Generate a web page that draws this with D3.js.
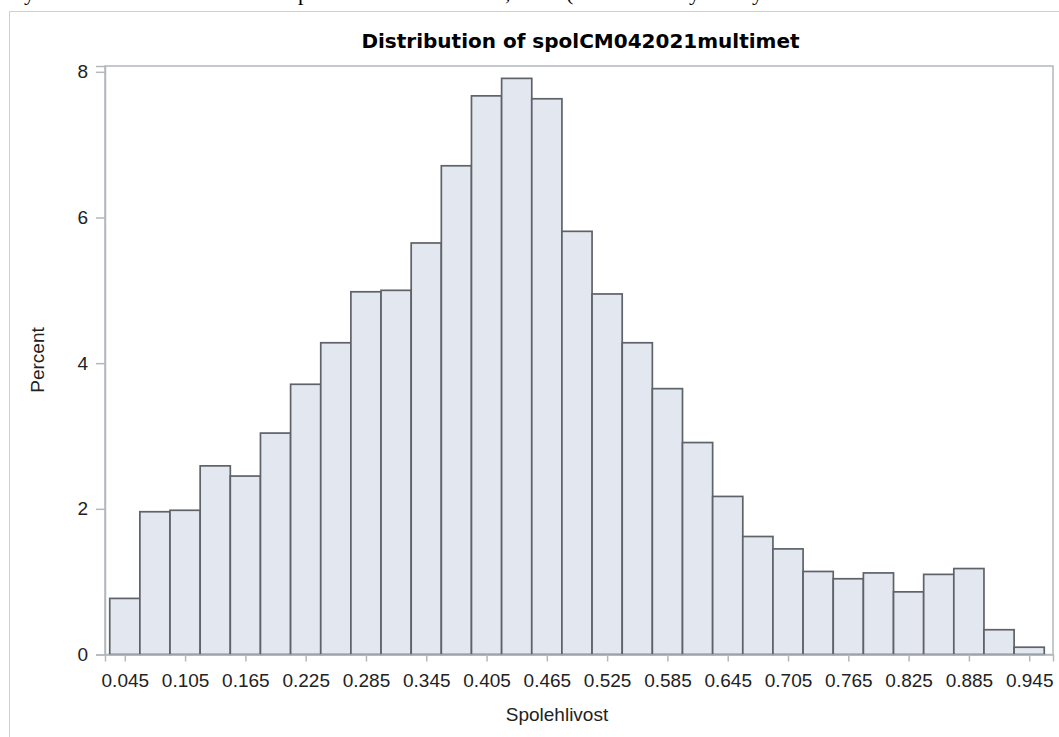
<!DOCTYPE html>
<html>
<head>
<meta charset="utf-8">
<script src="https://cdn.jsdelivr.net/npm/d3@7"></script>
<style>
  html, body { margin: 0; padding: 0; background: #fff; }
  svg { display: block; }
  .tick-label { font-family: "Liberation Sans", Arial, sans-serif; font-size: 19px; fill: #222; }
  .axis-label { font-family: "Liberation Sans", Arial, sans-serif; font-size: 19px; fill: #222; }
  .title { font-family: "DejaVu Sans", Verdana, sans-serif; font-size: 20px; font-weight: bold; fill: #000; }
</style>
</head>
<body>
<div class="chart"></div>
<script>
// bin midpoints (Spolehlivost), bin width 0.03
const binMids = [0.045, 0.075, 0.105, 0.135, 0.165, 0.195, 0.225, 0.255, 0.285, 0.315,
  0.345, 0.375, 0.405, 0.435, 0.465, 0.495, 0.525, 0.555, 0.585, 0.615,
  0.645, 0.675, 0.705, 0.735, 0.765, 0.795, 0.825, 0.855, 0.885, 0.915, 0.945];
const percents = [0.77, 1.96, 1.98, 2.59, 2.45, 3.04, 3.71, 4.28, 4.98, 5.00,
  5.65, 6.71, 7.67, 7.91, 7.63, 5.81, 4.95, 4.28, 3.65, 2.91,
  2.17, 1.62, 1.45, 1.14, 1.04, 1.12, 0.86, 1.10, 1.18, 0.34, 0.10];
const binWidth = 0.03;
const xTicks = [0.045, 0.105, 0.165, 0.225, 0.285, 0.345, 0.405, 0.465,
  0.525, 0.585, 0.645, 0.705, 0.765, 0.825, 0.885, 0.945];
const yTicks = [0, 2, 4, 6, 8];
const title = 'Distribution of spolCM042021multimet';
const xTitle = 'Spolehlivost';
const yTitle = 'Percent';

const W = 1059, H = 737;
const plot = {left: 105, right: 1053, top: 66, bottom: 654.5};

const svg = d3.select('.chart').append('svg')
  .attr('width', W)
  .attr('height', H);

// cut-off line of page text above the graph (only descenders visible)
const stray = [['y', 24], ['p', 298], [',', 505], ['(', 566], ['y', 689], ['y', 752]];
svg.selectAll('.stray')
  .data(stray)
  .enter().append('text')
  .attr('x', d => d[1])
  .attr('y', 0)
  .style('font-family', '"Liberation Serif", serif')
  .style('font-size', '22px')
  .style('fill', '#000')
  .text(d => d[0]);

// outer graph frame
svg.append('path')
  .attr('d', 'M9.5,' + H + 'V11.5H' + W)
  .style('fill', 'none')
  .style('stroke', '#cfcfcf')
  .style('stroke-width', 1);

const x = d3.scaleLinear().domain([0.0253, 0.9687]).range([plot.left, plot.right]);
const y = d3.scaleLinear().domain([0, 8.08]).range([plot.bottom, plot.top]);

// plot wall
svg.append('rect')
  .attr('x', plot.left)
  .attr('y', plot.top)
  .attr('width', plot.right - plot.left)
  .attr('height', plot.bottom - plot.top)
  .style('fill', '#fff')
  .style('stroke', '#b3b8bd')
  .style('stroke-width', 1.5);

// bars
svg.selectAll('.bar')
  .data(binMids)
  .enter().append('rect')
  .attr('class', 'bar')
  .attr('x', d => x(d - binWidth / 2))
  .attr('y', (d, i) => y(percents[i]))
  .attr('width', d => x(d + binWidth / 2) - x(d - binWidth / 2))
  .attr('height', (d, i) => y(0) - y(percents[i]))
  .style('fill', '#e3e7f0')
  .style('stroke', '#5e6269')
  .style('stroke-width', 1.7);

// x axis
const xAxis = svg.append('g')
  .attr('transform', 'translate(0,' + plot.bottom + ')')
  .call(d3.axisBottom(x).tickValues(xTicks).tickSize(7).tickPadding(11).tickFormat(d3.format('.3f')));
xAxis.select('.domain').style('stroke', '#b3b8bd').style('stroke-width', 1.5);
xAxis.selectAll('.tick line').style('stroke', '#b3b8bd').style('stroke-width', 1.5);
xAxis.selectAll('.tick text')
  .attr('class', 'tick-label')
  .attr('font-family', null).attr('font-size', null)
  .attr('dy', '0.75em');

// y axis
const yAxis = svg.append('g')
  .attr('transform', 'translate(' + plot.left + ',0)')
  .call(d3.axisLeft(y).tickValues(yTicks).tickSize(9).tickPadding(8));
yAxis.select('.domain').style('stroke', '#b3b8bd').style('stroke-width', 1.5);
yAxis.selectAll('.tick line').style('stroke', '#b3b8bd').style('stroke-width', 1.5);
yAxis.selectAll('.tick text')
  .attr('class', 'tick-label')
  .attr('font-family', null).attr('font-size', null);

// titles
svg.append('text')
  .attr('class', 'title')
  .attr('x', 580.5)
  .attr('y', 48)
  .attr('text-anchor', 'middle')
  .text(title);

svg.append('text')
  .attr('class', 'axis-label')
  .attr('x', 557)
  .attr('y', 721)
  .attr('text-anchor', 'middle')
  .text(xTitle);

svg.append('text')
  .attr('class', 'axis-label')
  .attr('transform', 'translate(44,360) rotate(-90)')
  .attr('text-anchor', 'middle')
  .text(yTitle);
</script>
</body>
</html>
